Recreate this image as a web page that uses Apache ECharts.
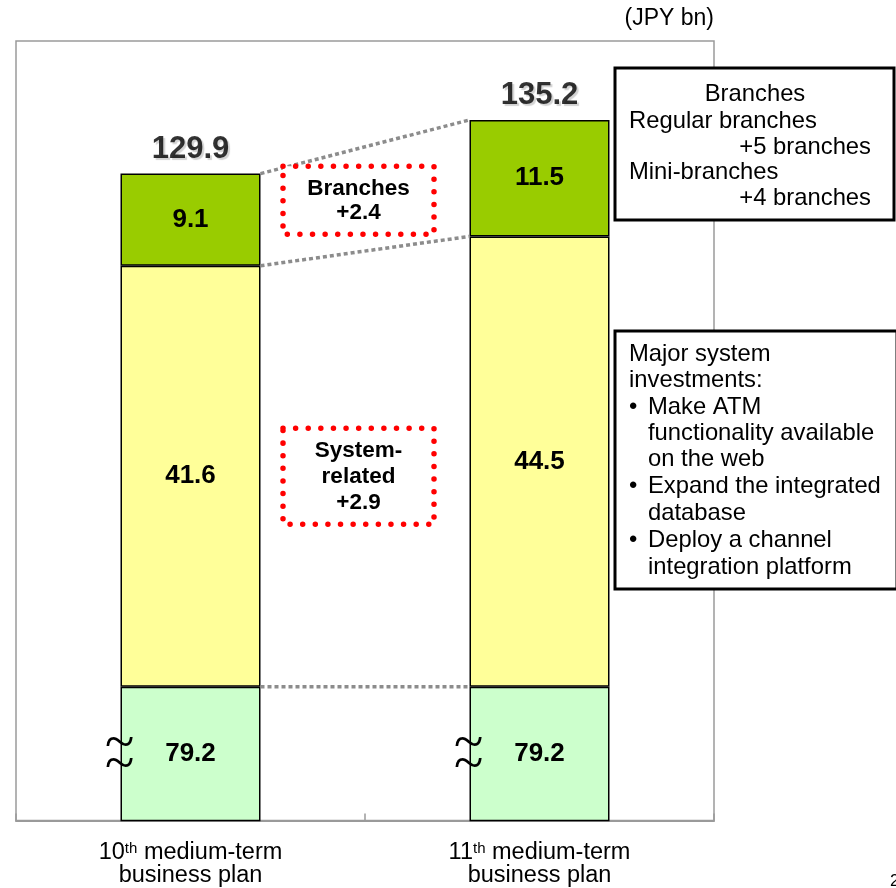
<!DOCTYPE html>
<html><head><meta charset="utf-8">
<script src="https://cdn.jsdelivr.net/npm/echarts@6/dist/echarts.min.js"></script>
<style>html,body{margin:0;padding:0;background:#fff}#c{width:896px;height:888px}</style>
</head><body><div id="c"></div>
<script>
// ---- data ----
const categories = ['10th medium-term business plan', '11th medium-term business plan'];
const baseValues = [79.2, 79.2];          // shown with a broken axis
const systemValues = [41.6, 44.5];        // system-related
const branchValues = [9.1, 11.5];         // branches
const totals = [129.9, 135.2];
const branchDiffLines = ['Branches', '+2.4'];
const systemDiffLines = ['System-', 'related', '+2.9'];
const unitLabel = '(JPY bn)';
const branchNotes = ['Branches', 'Regular branches', '+5 branches', 'Mini-branches', '+4 branches'];
const systemNotes = ['Major system', 'investments:', '• Make ATM', 'functionality available', 'on the web',
  '• Expand the integrated', 'database', '• Deploy a channel', 'integration platform'];
const axisMin = 66, axisMax = 143;

const FONT = 'Arial, "Liberation Sans", sans-serif';
const chart = echarts.init(document.getElementById('c'), null, {renderer: 'canvas'});

function segLabel() {
  return {show: true, position: 'inside', fontWeight: 'bold', fontSize: 26, color: '#000', fontFamily: FONT};
}
const option = {
  animation: false,
  backgroundColor: '#fff',
  grid: {left: 16, right: 182, top: 41, bottom: 62, show: true, borderColor: '#9a9a9a', borderWidth: 1.5, containLabel: false},
  xAxis: {
    type: 'category', data: categories,
    axisLine: {lineStyle: {color: '#9a9a9a', width: 2}},
    axisTick: {show: true, inside: true, length: 7, lineStyle: {color: '#9a9a9a', width: 1.5}},
    axisLabel: {
      color: '#000', fontSize: 23.5, fontFamily: FONT, lineHeight: 23, margin: 21,
      formatter: v => v.replace(/^(\d+)th /, '$1{sup|th} ').replace(' business', '\nbusiness'),
      rich: {sup: {fontSize: 15, fontFamily: FONT, color: '#000', verticalAlign: 'top', lineHeight: 23}}
    }
  },
  yAxis: {type: 'value', min: axisMin, max: axisMax, show: false, splitLine: {show: false}},
  series: [
    {name: 'Base', type: 'bar', stack: 't', barWidth: 140, clip: true, data: baseValues,
      itemStyle: {color: '#CCFFCC', borderColor: '#000', borderWidth: 1.5}, label: segLabel()},
    {name: 'System-related', type: 'bar', stack: 't', barWidth: 140, clip: true, data: systemValues,
      itemStyle: {color: '#FFFF99', borderColor: '#000', borderWidth: 1.5}, label: segLabel()},
    {name: 'Branches', type: 'bar', stack: 't', barWidth: 140, clip: true, data: branchValues,
      itemStyle: {color: '#99CC00', borderColor: '#000', borderWidth: 1.5}, label: segLabel()},
    {name: 'Total', type: 'scatter', symbolSize: 0, data: totals.map((t, i) => [i, t]), z: 5,
      label: {show: true, position: 'top', distance: 9, fontSize: 31, fontWeight: 'bold', color: '#000', fontFamily: FONT,
        textShadowColor: 'rgba(0,0,0,0.22)', textShadowOffsetX: 2, textShadowOffsetY: 2, textShadowBlur: 1,
        formatter: p => p.value[1].toFixed(1)}}
  ]
};
chart.setOption(option);

// ---- annotations placed through the chart's own scales ----
const px = (c, v) => chart.convertToPixel({gridIndex: 0}, [c, v]);
const half = 70;
const tops = categories.map((_, i) => ({
  base: baseValues[i], sys: baseValues[i] + systemValues[i], all: baseValues[i] + systemValues[i] + branchValues[i]
}));
const g = [];
const dashed = {stroke: '#8c8c8c', lineWidth: 3.5, lineDash: [4, 3]};
function conn(key) {
  const a = px(0, tops[0][key]), b = px(1, tops[1][key]);
  return {x1: a[0] + half, y1: a[1], x2: b[0] - half, y2: b[1]};
}
const cTop = conn('all'), cSys = conn('sys'), cBase = conn('base');
[cTop, cSys, cBase].forEach(s => g.push({type: 'line', shape: s, style: dashed, z: 10}));

function yAt(s, x) { return s.y1 + (s.y2 - s.y1) * (x - s.x1) / (s.x2 - s.x1); }
function dotBox(x, y, w, h, lines, lh) {
  g.push({type: 'rect', shape: {x, y, width: w, height: h},
    style: {fill: '#fff', stroke: '#ff0000', lineWidth: 5.5, lineDash: [0.01, 12.6], lineCap: 'round'}, z: 20});
  const cy = y + h / 2 - (lines.length - 1) * lh / 2;
  lines.forEach((t, k) => g.push({type: 'text', z: 21, style: {text: t, x: x + w / 2, y: cy + k * lh,
    align: 'center', verticalAlign: 'middle', font: 'bold 22.5px ' + FONT, fill: '#000'}}));
}
// branches diff box sits between the two upper connectors
const bxMid = 358;
const bcy = (yAt(cTop, bxMid) + yAt(cSys, bxMid)) / 2;
dotBox(283, bcy - 34, 151, 68, branchDiffLines, 24);
// system diff box in the yellow section
const sA = px(0, tops[0].sys)[1], sB = px(0, tops[0].base)[1];
const scy = (sA + sB) / 2;
dotBox(283, scy - 48, 151, 96, systemDiffLines, 26);

// broken-axis marks (two stacked tildes)
categories.forEach((_, i) => {
  const y1 = px(i, baseValues[i])[1], y0 = px(i, axisMin)[1];
  const x = px(i, axisMin)[0] - half;
  const my = (y0 + y1) / 2;
  [-10.5, 10.5].forEach(dy => g.push({type: 'text', z: 15, style: {text: '~', x: x - 1, y: my + dy + 3, align: 'center', verticalAlign: 'middle',
    font: '54px "Liberation Serif", "DejaVu Serif", serif', fill: '#000'}}));
});

// right-hand note boxes
const nf = '23.8px ' + FONT;
g.push({type: 'rect', shape: {x: 615, y: 68, width: 279, height: 152}, style: {fill: '#fff', stroke: '#000', lineWidth: 3}, z: 20});
const bAlign = ['center', 'left', 'right', 'left', 'right'];
const bX = [755, 629, 871, 629, 871];
const bY = [94, 121, 147, 172, 198];
branchNotes.forEach((t, k) => g.push({type: 'text', z: 21, style: {text: t, x: bX[k], y: bY[k], align: bAlign[k], verticalAlign: 'middle', font: nf, fill: '#000'}}));

g.push({type: 'rect', shape: {x: 615, y: 331, width: 282, height: 258}, style: {fill: '#fff', stroke: '#000', lineWidth: 3}, z: 20});
const sY = [354, 380, 407, 433, 459, 486, 513, 540, 567];
systemNotes.forEach((t, k) => {
  if (t.startsWith('• ')) {
    g.push({type: 'text', z: 21, style: {text: '•', x: 629, y: sY[k], align: 'left', verticalAlign: 'middle', font: nf, fill: '#000'}});
    g.push({type: 'text', z: 21, style: {text: t.slice(2), x: 648, y: sY[k], align: 'left', verticalAlign: 'middle', font: nf, fill: '#000'}});
  } else {
    const x = (k === 0 || k === 1) ? 629 : 648;
    g.push({type: 'text', z: 21, style: {text: t, x, y: sY[k], align: 'left', verticalAlign: 'middle', font: nf, fill: '#000'}});
  }
});

g.push({type: 'text', z: 21, style: {text: unitLabel, x: 714, y: 19, align: 'right', verticalAlign: 'middle', font: '23px ' + FONT, fill: '#000'}});
g.push({type: 'text', z: 21, style: {text: '2', x: 890, y: 881, align: 'left', verticalAlign: 'middle', font: '17px ' + FONT, fill: '#000'}});

chart.setOption({graphic: {elements: g}});
</script>
</body></html>
